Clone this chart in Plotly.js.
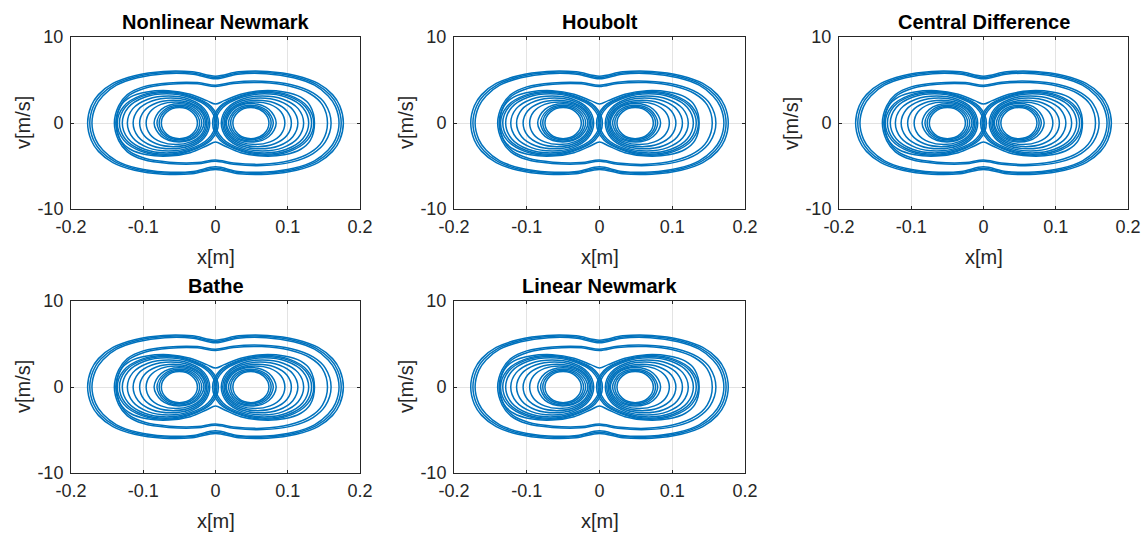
<!DOCTYPE html>
<html>
<head>
<meta charset="utf-8">
<script src="https://cdn.plot.ly/plotly-3.0.1.min.js"></script>
<style>html,body{margin:0;padding:0;background:#fff;}#chart{width:1148px;height:536px;}</style>
</head>
<body>
<div id="chart"></div>
<script>
// ---------- labels ----------
const panelTitles = ['Nonlinear Newmark', 'Houbolt', 'Central Difference', 'Bathe', 'Linear Newmark'];
const xTickVals = [-0.2, -0.1, 0, 0.1, 0.2];
const xTickText = ['-0.2', '-0.1', '0', '0.1', '0.2'];
const vTickVals = [-10, 0, 10];
const vTickText = ['-10', '0', '10'];
const xLabel = 'x[m]';
const vLabel = 'v[m/s]';

// ---------- phase-portrait strands (x [m], v [m/s]) ----------
// outer band (encircles both wells)
const O1x = [-0.177,-0.172,-0.162,-0.142,-0.112,-0.072,-0.032,0,0.032,0.072,0.112,0.142,0.162,0.172,0.177,0.172,0.162,0.142,0.112,0.072,0.032,0,-0.032,-0.072,-0.112,-0.142,-0.162,-0.172,-0.177];
const O1v = [0,2.0,3.3,4.6,5.5,6.0,5.95,5.45,5.95,6.0,5.5,4.6,3.3,2.0,0,-2.0,-3.3,-4.6,-5.5,-5.95,-5.9,-5.4,-5.9,-5.95,-5.5,-4.6,-3.3,-2.0,0];
const O2x = [-0.174,-0.169,-0.159,-0.1395,-0.110,-0.071,-0.032,0,0.032,0.071,0.110,0.1395,0.159,0.169,0.174,0.169,0.159,0.1395,0.110,0.071,0.032,0,-0.032,-0.071,-0.110,-0.1395,-0.159,-0.169,-0.174];
const O2v = [0,1.95,3.22,4.5,5.38,5.87,5.82,5.3,5.82,5.87,5.38,4.5,3.22,1.95,0,-1.95,-3.22,-4.5,-5.38,-5.82,-5.77,-5.25,-5.77,-5.82,-5.38,-4.5,-3.22,-1.95,0];
const O3x = [-0.171,-0.166,-0.156,-0.137,-0.108,-0.070,-0.031,0,0.031,0.070,0.108,0.137,0.156,0.166,0.171,0.166,0.156,0.137,0.108,0.070,0.031,0,-0.031,-0.070,-0.108,-0.137,-0.156,-0.166,-0.171];
const O3v = [0,1.9,3.15,4.4,5.26,5.74,5.68,5.15,5.68,5.74,5.26,4.4,3.15,1.9,0,-1.9,-3.15,-4.4,-5.26,-5.7,-5.64,-5.1,-5.64,-5.7,-5.26,-4.4,-3.15,-1.9,0];
// second band (crosses x=0 near |v| = 4.4)
const Q1x = [-0.140,-0.134,-0.122,-0.100,-0.065,-0.025,0,0.025,0.065,0.105,0.135,0.152,0.160,0.152,0.135,0.105,0.065,0.025,0,-0.025,-0.065,-0.100,-0.122,-0.134,-0.140];
const Q1v = [0,2.0,3.3,4.2,4.65,4.7,4.4,4.75,4.85,4.45,3.5,2.2,0,-2.2,-3.55,-4.55,-4.95,-4.8,-4.45,-4.75,-4.7,-4.25,-3.35,-2.05,0];
const Q2x = [-0.138,-0.132,-0.120,-0.098,-0.064,-0.025,0,0.025,0.064,0.102,0.131,0.148,0.155,0.148,0.131,0.102,0.064,0.025,0,-0.025,-0.064,-0.098,-0.120,-0.132,-0.138];
const Q2v = [0,1.95,3.2,4.05,4.5,4.55,4.25,4.6,4.7,4.3,3.4,2.1,0,-2.1,-3.45,-4.4,-4.8,-4.65,-4.3,-4.6,-4.55,-4.1,-3.25,-2.0,0];
// peanut strand pinched near the origin (|v| ~ 2.2 at x = 0)
const P1x = [-0.137,-0.131,-0.118,-0.095,-0.065,-0.035,-0.012,0,0.012,0.035,0.065,0.095,0.118,0.131,0.137,0.131,0.118,0.095,0.065,0.035,0.012,0,-0.012,-0.035,-0.065,-0.095,-0.118,-0.131,-0.137];
const P1v = [0,2.0,3.0,3.6,3.75,3.35,2.6,2.2,2.6,3.35,3.75,3.6,3.0,2.0,0,-2.05,-3.05,-3.7,-3.85,-3.45,-2.65,-2.2,-2.65,-3.45,-3.85,-3.7,-3.05,-2.05,0];
// left-well strands
const L1x = [-0.136,-0.1271,-0.1028,-0.0695,-0.0362,-0.006,0.004,-0.006,-0.0362,-0.0695,-0.1028,-0.1271,-0.136];
const L1v = [0,1.93,3.21,3.65,3.21,1.93,0,-1.99,-3.30,-3.75,-3.30,-1.99,0];
const L2x = [-0.133,-0.1244,-0.1008,-0.0685,-0.0362,-0.008,0.002,-0.008,-0.0362,-0.0685,-0.1008,-0.1244,-0.133];
const L2v = [0,1.88,3.12,3.55,3.12,1.88,0,-1.92,-3.19,-3.62,-3.19,-1.92,0];
const L3x = [-0.129,-0.1208,-0.0983,-0.0675,-0.0367,-0.010,0,-0.010,-0.0367,-0.0675,-0.0983,-0.1208,-0.129];
const L3v = [0,1.80,2.99,3.4,2.99,1.80,0,-1.84,-3.06,-3.48,-3.06,-1.84,0];
const L4x = [-0.122,-0.1144,-0.0935,-0.065,-0.0365,-0.0156,-0.008,-0.0156,-0.0365,-0.065,-0.0935,-0.1144,-0.122];
const L4v = [0,1.67,2.77,3.15,2.77,1.67,0,-1.72,-2.86,-3.25,-2.86,-1.72,0];
const L5x = [-0.114,-0.107,-0.088,-0.062,-0.036,-0.017,-0.010,-0.017,-0.036,-0.062,-0.088,-0.107,-0.114];
const L5v = [0,1.54,2.55,2.9,2.55,1.54,0,-1.59,-2.64,-3.0,-2.64,-1.59,0];
const L6x = [-0.105,-0.0988,-0.0818,-0.0585,-0.0352,-0.0182,-0.012,-0.0182,-0.0352,-0.0585,-0.0818,-0.0988,-0.105];
const L6v = [0,1.40,2.33,2.65,2.33,1.40,0,-1.46,-2.42,-2.75,-2.42,-1.46,0];
const L7x = [-0.096,-0.0905,-0.0755,-0.055,-0.0345,-0.0195,-0.014,-0.0195,-0.0345,-0.055,-0.0755,-0.0905,-0.096];
const L7v = [0,1.30,2.16,2.45,2.16,1.30,0,-1.33,-2.2,-2.5,-2.2,-1.33,0];
const I1x = [-0.085,-0.0749,-0.0505,-0.0261,-0.016,-0.0261,-0.0505,-0.0749,-0.085];
const I1v = [0,1.59,2.25,1.59,0,-1.56,-2.2,-1.56,0];
const I2x = [-0.081,-0.0719,-0.050,-0.0281,-0.019,-0.0281,-0.050,-0.0719,-0.081];
const I2v = [0,1.45,2.05,1.45,0,-1.48,-2.1,-1.48,0];
const I3x = [-0.078,-0.0698,-0.050,-0.0302,-0.022,-0.0302,-0.050,-0.0698,-0.078];
const I3v = [0,1.36,1.92,1.36,0,-1.38,-1.95,-1.38,0];
const I4x = [-0.075,-0.0677,-0.050,-0.0323,-0.025,-0.0323,-0.050,-0.0677,-0.075];
const I4v = [0,1.27,1.8,1.27,0,-1.29,-1.82,-1.29,0];
// right-well strands
const R1x = [0.136,0.1271,0.1028,0.0695,0.0362,0.006,-0.004,0.006,0.0362,0.0695,0.1028,0.1271,0.136];
const R1v = [0,-1.99,-3.30,-3.75,-3.30,-1.99,0,1.93,3.21,3.65,3.21,1.93,0];
const R2x = [0.133,0.1244,0.1008,0.0685,0.0362,0.008,-0.002,0.008,0.0362,0.0685,0.1008,0.1244,0.133];
const R2v = [0,-1.92,-3.19,-3.62,-3.19,-1.92,0,1.88,3.12,3.55,3.12,1.88,0];
const R3x = [0.129,0.1208,0.0983,0.0675,0.0367,0.010,0,0.010,0.0367,0.0675,0.0983,0.1208,0.129];
const R3v = [0,-1.84,-3.06,-3.48,-3.06,-1.84,0,1.80,2.99,3.4,2.99,1.80,0];
const R4x = [0.122,0.1144,0.0935,0.065,0.0365,0.0156,0.008,0.0156,0.0365,0.065,0.0935,0.1144,0.122];
const R4v = [0,-1.72,-2.86,-3.25,-2.86,-1.72,0,1.67,2.77,3.15,2.77,1.67,0];
const R5x = [0.114,0.107,0.088,0.062,0.036,0.017,0.010,0.017,0.036,0.062,0.088,0.107,0.114];
const R5v = [0,-1.59,-2.64,-3.0,-2.64,-1.59,0,1.54,2.55,2.9,2.55,1.54,0];
const R6x = [0.105,0.0988,0.0818,0.0585,0.0352,0.0182,0.012,0.0182,0.0352,0.0585,0.0818,0.0988,0.105];
const R6v = [0,-1.46,-2.42,-2.75,-2.42,-1.46,0,1.40,2.33,2.65,2.33,1.40,0];
const R7x = [0.096,0.0905,0.0755,0.055,0.0345,0.0195,0.014,0.0195,0.0345,0.055,0.0755,0.0905,0.096];
const R7v = [0,-1.33,-2.2,-2.5,-2.2,-1.33,0,1.30,2.16,2.45,2.16,1.30,0];
const J1x = [0.084,0.0739,0.0495,0.0251,0.015,0.0251,0.0495,0.0739,0.084];
const J1v = [0,-1.57,-2.22,-1.57,0,1.6,2.26,1.6,0];
const J2x = [0.080,0.0709,0.049,0.0271,0.018,0.0271,0.049,0.0709,0.080];
const J2v = [0,-1.48,-2.1,-1.48,0,1.46,2.06,1.46,0];
const J3x = [0.077,0.0688,0.049,0.0292,0.021,0.0292,0.049,0.0688,0.077];
const J3v = [0,-1.38,-1.95,-1.38,0,1.36,1.92,1.36,0];
const J4x = [0.074,0.0667,0.049,0.0313,0.024,0.0313,0.049,0.0667,0.074];
const J4v = [0,-1.29,-1.82,-1.29,0,1.27,1.8,1.27,0];

const strands = [
  [O1x,O1v],[O2x,O2v],[O3x,O3v],[Q1x,Q1v],[Q2x,Q2v],[P1x,P1v],
  [L1x,L1v],[L2x,L2v],[L3x,L3v],[L4x,L4v],[L5x,L5v],[L6x,L6v],[L7x,L7v],
  [I1x,I1v],[I2x,I2v],[I3x,I3v],[I4x,I4v],
  [R1x,R1v],[R2x,R2v],[R3x,R3v],[R4x,R4v],[R5x,R5v],[R6x,R6v],[R7x,R7v],
  [J1x,J1v],[J2x,J2v],[J3x,J3v],[J4x,J4v]
];

function joinStrands(list) {
  const xs = [], vs = [];
  list.forEach(([lx, lv]) => { xs.push(...lx, null); vs.push(...lv, null); });
  return {xs, vs};
}
const path = joinStrands(strands);

// ---------- layout geometry ----------
const W = 1148, H = 536;
const panels = [
  {x0: 71,  x1: 360,  y0: 37,  y1: 209},
  {x0: 454, x1: 745,  y0: 37,  y1: 209},
  {x0: 839, x1: 1128, y0: 37,  y1: 209},
  {x0: 71,  x1: 360,  y0: 301, y1: 473},
  {x0: 454, x1: 745,  y0: 301, y1: 473}
];
const FONT = 'Liberation Sans, Arial, Helvetica, sans-serif';
const AX = '#262626';
const LINE = '#0072BD';

const data = [];
const layout = {
  width: W, height: H,
  margin: {l: 0, r: 0, t: 0, b: 0},
  paper_bgcolor: '#ffffff', plot_bgcolor: '#ffffff',
  showlegend: false,
  font: {family: FONT, color: AX},
  annotations: []
};

panels.forEach((p, i) => {
  const n = i === 0 ? '' : String(i + 1);
  data.push({
    type: 'scatter', mode: 'lines',
    x: path.xs, y: path.vs,
    xaxis: 'x' + n, yaxis: 'y' + n,
    connectgaps: false,
    line: {color: LINE, width: 1.5, shape: 'spline', smoothing: 1},
    hoverinfo: 'skip'
  });
  const common = {
    showgrid: true, gridcolor: '#e3e3e3', gridwidth: 1,
    zeroline: false,
    showline: true, mirror: 'ticks', linecolor: AX, linewidth: 1,
    ticks: 'inside', ticklen: 3, tickcolor: AX,
    tickfont: {family: FONT, size: 18, color: AX},
    fixedrange: true
  };
  layout['xaxis' + n] = Object.assign({}, common, {
    domain: [p.x0 / W, p.x1 / W],
    anchor: 'y' + n,
    range: [-0.2, 0.2],
    tickmode: 'array', tickvals: xTickVals, ticktext: xTickText,
    ticklabelstandoff: 1
  });
  layout['yaxis' + n] = Object.assign({}, common, {
    domain: [1 - p.y1 / H, 1 - p.y0 / H],
    anchor: 'x' + n,
    range: [-10, 10],
    tickmode: 'array', tickvals: vTickVals, ticktext: vTickText,
    ticklabelstandoff: 3
  });
  const cx = (p.x0 + p.x1) / 2 / W;
  const cy = 1 - (p.y0 + p.y1) / 2 / H;
  layout.annotations.push({
    text: '<b>' + panelTitles[i] + '</b>', xref: 'paper', yref: 'paper',
    x: cx, y: 1 - (p.y0 - 15.5) / H, xanchor: 'center', yanchor: 'middle',
    showarrow: false, font: {family: FONT, size: 20, color: '#000000'}
  });
  layout.annotations.push({
    text: xLabel, xref: 'paper', yref: 'paper',
    x: cx, y: 1 - (p.y1 + 48) / H, xanchor: 'center', yanchor: 'middle',
    showarrow: false, font: {family: FONT, size: 20, color: AX}
  });
  layout.annotations.push({
    text: vLabel, xref: 'paper', yref: 'paper', textangle: -90,
    x: (p.x0 - 48) / W, y: cy, xanchor: 'center', yanchor: 'middle',
    showarrow: false, font: {family: FONT, size: 20, color: AX}
  });
});

Plotly.newPlot('chart', data, layout, {staticPlot: true, displayModeBar: false});
</script>
</body>
</html>
